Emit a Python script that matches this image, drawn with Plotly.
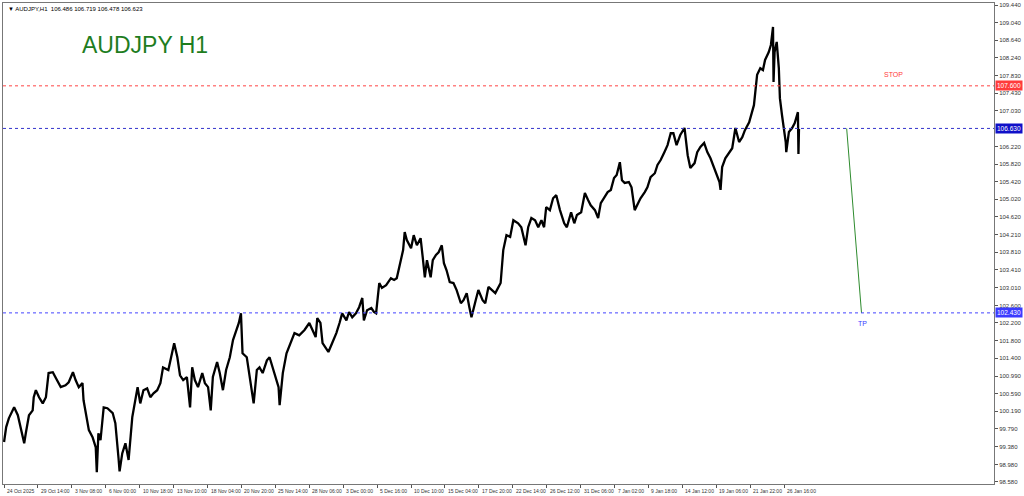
import plotly.graph_objects as go

# H1 price path: bar index (hours from first bar) and price
bars = [
    0, 4, 9, 19, 26, 32, 38, 41, 47, 54, 56, 60, 66, 73, 79, 84, 92, 98, 107, 116,
    122, 130, 135, 141, 148, 150, 156, 160, 167, 173, 175, 178, 182, 188, 195, 205, 210, 214, 216, 218,
    223, 229, 235, 242, 248, 252, 257, 263, 270, 276, 282, 289, 295, 300, 310, 317, 321, 327, 332, 338,
    345, 351, 355, 360, 366, 374, 379, 385, 390, 394, 402, 407, 413, 419, 426, 432, 439, 443, 447, 450,
    458, 464, 469, 471, 477, 482, 488, 496, 501, 507, 514, 518, 520, 526, 533, 539, 548, 557, 567, 576,
    582, 588, 591, 597, 601, 608, 612, 619, 627, 633, 638, 646, 651, 657, 664, 670, 676, 679, 685, 693,
    698, 702, 708, 713, 721, 730, 736, 741, 749, 753, 756, 760, 768, 773, 779, 786, 790, 794, 798, 805,
    809, 815, 820, 826, 830, 835, 841, 848, 854, 862, 867, 873, 878, 882, 890, 895, 903, 908, 914, 927,
    937, 942, 948, 955, 961, 970, 976, 984, 989, 995, 1002, 1008, 1014, 1019, 1023, 1030, 1036, 1042, 1049, 1057,
    1062, 1070, 1076, 1081, 1089, 1096, 1102, 1107, 1115, 1121, 1126, 1134, 1139, 1145, 1151, 1156, 1162, 1166, 1171, 1179,
    1184, 1190, 1196, 1201, 1209, 1214, 1220, 1228, 1233, 1239, 1246, 1252, 1258, 1263, 1269, 1276, 1284, 1290, 1295, 1303,
    1308, 1314, 1321, 1327, 1333, 1340, 1344, 1350, 1352, 1355, 1361, 1368, 1374, 1380, 1387, 1393, 1398, 1406, 1411, 1415,
    1421, 1427, 1432, 1436, 1443, 1447, 1451, 1452, 1454, 1456, 1458, 1462, 1464, 1468, 1472, 1475, 1476, 1481, 1487, 1492,
    1498, 1499, 1500,
]
prices = [
    99.49, 99.83, 100.03, 100.28, 100.10, 99.76, 99.46, 99.69, 100.10, 100.21, 100.51, 100.67, 100.51, 100.37, 100.51, 101.06, 101.08, 100.94, 100.74, 100.78,
    100.85, 101.08, 100.90, 100.74, 100.83, 100.44, 100.06, 99.76, 99.60, 99.37, 98.80, 99.69, 99.53, 100.28, 100.26, 100.15, 99.92, 99.23, 99.12, 98.82,
    99.23, 99.46, 99.08, 100.06, 100.51, 100.74, 100.37, 100.67, 100.71, 100.51, 100.60, 100.67, 100.83, 101.19, 101.13, 101.51, 101.74, 101.42, 101.01, 100.90,
    100.97, 100.28, 101.19, 100.90, 100.74, 101.06, 100.83, 100.74, 100.21, 100.97, 101.31, 101.06, 100.67, 101.13, 101.42, 101.81, 102.04, 102.20, 102.42, 101.51,
    101.42, 100.97, 100.60, 100.37, 101.13, 101.19, 101.06, 101.35, 101.42, 101.19, 100.90, 100.74, 100.33, 101.06, 101.51, 101.70, 101.97, 101.92, 102.04, 102.20,
    102.04, 101.88, 102.31, 102.20, 101.74, 101.63, 101.54, 101.74, 101.97, 102.20, 102.42, 102.26, 102.45, 102.33, 102.42, 102.56, 102.77, 102.26, 102.49, 102.54,
    102.45, 102.42, 103.11, 103.00, 103.06, 103.22, 103.18, 103.22, 103.63, 103.86, 104.27, 104.09, 103.90, 104.20, 103.97, 104.13, 103.70, 103.24, 103.63, 103.24,
    103.63, 103.75, 103.81, 103.97, 103.56, 103.40, 103.13, 103.11, 102.95, 102.65, 102.72, 102.88, 102.56, 102.33, 102.72, 102.95, 102.72, 102.65, 103.02, 102.88,
    103.11, 103.86, 104.20, 104.16, 104.54, 104.47, 104.38, 103.97, 104.38, 104.59, 104.54, 104.38, 104.54, 104.38, 104.84, 104.77, 105.04, 105.11, 104.77, 104.47,
    104.38, 104.72, 104.47, 104.66, 104.72, 105.16, 105.00, 104.88, 104.77, 104.59, 104.93, 105.07, 105.18, 105.23, 105.50, 105.57, 105.86, 105.45, 105.39, 105.41,
    105.29, 104.77, 104.93, 105.04, 105.18, 105.29, 105.52, 105.61, 105.80, 105.91, 106.09, 106.25, 106.52, 106.52, 106.25, 106.48, 106.64, 106.02, 105.73, 105.84,
    106.09, 106.21, 106.30, 106.09, 105.95, 105.73, 105.64, 105.41, 105.23, 105.75, 105.95, 106.09, 106.18, 106.64, 106.32, 106.43, 106.59, 106.77, 107.00, 107.16,
    107.85, 108.00, 107.96, 108.19, 108.37, 108.53, 108.94, 107.69, 108.37, 108.48, 108.60, 108.00, 107.32, 106.93, 106.64, 106.32, 106.09, 106.55, 106.64, 106.75,
    107.00, 106.05, 106.62,
]

# price scale ticks as printed on the right axis
price_ticks = [
    109.44, 109.04, 108.64, 108.24, 107.83, 107.43, 107.03, 106.22, 105.82, 105.42,
    105.02, 104.62, 104.21, 103.81, 103.41, 103.01, 102.60, 102.20, 101.80, 101.40,
    100.99, 100.59, 100.19, 99.79, 99.38, 98.98, 98.58,
]

# time scale labels, one every 64 bars
time_labels = [
    "24 Oct 2025", "29 Oct 14:00", "3 Nov 08:00", "6 Nov 00:00", "10 Nov 18:00",
    "13 Nov 10:00", "18 Nov 04:00", "20 Nov 20:00", "25 Nov 14:00", "28 Nov 06:00",
    "3 Dec 00:00", "5 Dec 16:00", "10 Dec 10:00", "15 Dec 04:00", "17 Dec 20:00",
    "22 Dec 14:00", "26 Dec 12:00", "31 Dec 06:00", "7 Jan 02:00", "9 Jan 18:00",
    "14 Jan 12:00", "19 Jan 06:00", "21 Jan 22:00", "26 Jan 16:00",
]
bars_per_label = 64
label_bars = [i * bars_per_label for i in range(len(time_labels))]

# levels drawn on the chart
stop_level = 107.600
entry_level = 106.630
tp_level = 102.430

# projected move (green trend line)
trend_bars = [1590, 1618]
trend_prices = [106.63, 102.43]

FONT = "Liberation Sans, Arial, sans-serif"

fig = go.Figure()

fig.add_trace(go.Scatter(
    x=bars, y=prices, mode="lines",
    line=dict(color="black", width=2.3),
    hoverinfo="skip", showlegend=False,
))

fig.add_trace(go.Scatter(
    x=trend_bars, y=trend_prices, mode="lines",
    line=dict(color="#2e8b2e", width=1),
    hoverinfo="skip", showlegend=False,
))

# horizontal levels
for level, colour in [(stop_level, "#ff4444"), (entry_level, "#3333cc"), (tp_level, "#4444ff")]:
    fig.add_hline(y=level, line=dict(color=colour, width=1, dash="dot"))

# boxes on the price scale
for level, colour in [(stop_level, "#ff3b3b"), (entry_level, "#1010c8"), (tp_level, "#3b3bff")]:
    fig.add_annotation(
        x=1, xref="paper", xanchor="left", xshift=1,
        y=level, yref="y", yanchor="middle",
        text=f"{level:.3f}", showarrow=False,
        font=dict(family=FONT, size=6.5, color="white"),
        bgcolor=colour, borderpad=1,
    )

fig.add_annotation(
    x=1678, y=stop_level, yshift=11, text="STOP", showarrow=False,
    font=dict(family=FONT, size=7, color="#ff3b3b"),
)
fig.add_annotation(
    x=1620, y=tp_level, yshift=-11, text="TP", showarrow=False,
    font=dict(family=FONT, size=7, color="#3b3bff"),
)

# time labels, left-aligned on their tick like the terminal does
for b, lab in zip(label_bars, time_labels):
    fig.add_annotation(
        x=b, xref="x", xanchor="left", xshift=1,
        y=0, yref="paper", yanchor="top", yshift=-2,
        text=lab, showarrow=False,
        font=dict(family=FONT, size=5, color="#333333"),
    )

# symbol header and big title
fig.add_annotation(
    x=0.003, xref="paper", xanchor="left", y=1, yref="paper", yanchor="top", yshift=-1,
    text="▼ AUDJPY,H1  106.486 106.719 106.478 106.623", showarrow=False,
    font=dict(family=FONT, size=6, color="black"),
)
fig.add_annotation(
    x=0.078, xref="paper", xanchor="left", y=0.913, yref="paper", yanchor="middle",
    text="AUDJPY H1", showarrow=False,
    font=dict(family=FONT, size=23, color="#1e7d1e"),
)

fig.update_layout(
    width=1024, height=496,
    margin=dict(l=2, r=26, t=3, b=12),
    paper_bgcolor="white", plot_bgcolor="white",
    xaxis=dict(
        range=[-2, 1868], showgrid=False, zeroline=False,
        tickvals=label_bars, showticklabels=False,
        ticks="outside", ticklen=3, tickcolor="#555555",
        showline=True, linecolor="#777777", linewidth=1, mirror=True,
    ),
    yaxis=dict(
        range=[98.534, 109.486], side="right", showgrid=False, zeroline=False,
        tickvals=price_ticks, ticktext=[f"{v:.3f}" for v in price_ticks],
        ticks="outside", ticklen=3, tickcolor="#555555",
        tickfont=dict(family=FONT, size=6, color="#333333"),
        showline=True, linecolor="#777777", linewidth=1, mirror=True,
    ),
)

# page margin off so the fixed-size figure sits at the window's corner
fig.write_html(
    "out.html",
    config={"displayModeBar": False},
    post_script="document.body.style.margin='0';document.body.style.overflow='hidden';",
)
